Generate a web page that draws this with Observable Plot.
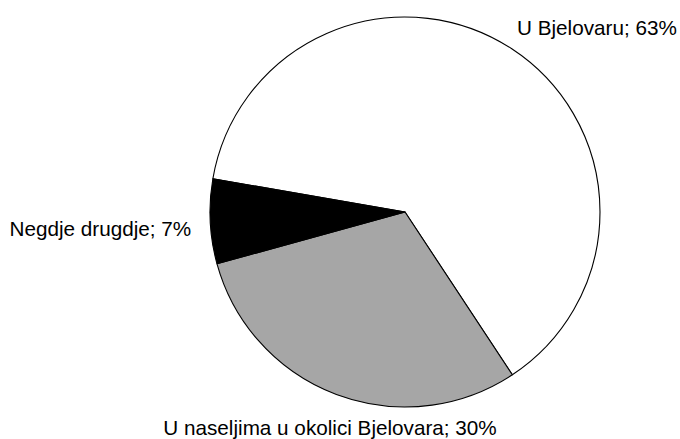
<!DOCTYPE html>
<html>
<head>
<meta charset="utf-8">
<script src="https://cdn.jsdelivr.net/npm/d3@7"></script>
<script src="https://cdn.jsdelivr.net/npm/@observablehq/plot@0.6"></script>
<style>
  html, body { margin: 0; padding: 0; background: #fff; }
</style>
</head>
<body>
<div id="chart"></div>
<script>
const categories = ["U Bjelovaru", "U naseljima u okolici Bjelovara", "Negdje drugdje"];
const shares = [63, 30, 7];
const sliceColors = ["#ffffff", "#a6a6a6", "#000000"];

const startDeg = -80.2;
const pie = d3.pie().sort(null).value(d => d.share)
  .startAngle(startDeg * Math.PI / 180)
  .endAngle(startDeg * Math.PI / 180 + 2 * Math.PI);
const rows = categories.map((c, i) => ({category: c, share: shares[i]}));
const arcs = pie(rows);
const fillOf = d3.scaleOrdinal(categories, sliceColors);

// label layout per slice (anchor and nudges)
const labelStyle = {
  "U Bjelovaru": {anchor: "start", dx: -6, dy: -5},
  "U naseljima u okolici Bjelovara": {anchor: "middle", dx: 0, dy: 15},
  "Negdje drugdje": {anchor: "end", dx: 0, dy: 6}
};
const labels = arcs.map(a => {
  const m = (a.startAngle + a.endAngle) / 2;
  return {
    category: a.data.category,
    text: `${a.data.category}; ${a.data.share}%`,
    x: Math.sin(m) * 1.1,
    y: Math.cos(m) * 1.1,
    ...labelStyle[a.data.category]
  };
});

function pieMark(index, scales) {
  const cx = scales.x(0), cy = scales.y(0);
  const r = scales.x(1) - scales.x(0);
  const arcGen = d3.arc().innerRadius(0).outerRadius(r);
  const g = d3.create("svg:g").attr("transform", `translate(${cx},${cy})`);
  g.selectAll("path").data(arcs).join("path")
    .attr("d", arcGen)
    .attr("fill", d => fillOf(d.data.category))
    .attr("stroke", "#000")
    .attr("stroke-width", 1.1)
    .attr("stroke-linejoin", "round");
  return g.node();
}

const chart = Plot.plot({
  width: 680,
  height: 439,
  margin: 0,
  x: {domain: [-1, 1], range: [210, 600], axis: null},
  y: {domain: [-1, 1], range: [407, 17], axis: null},
  style: {fontFamily: "'Liberation Sans', Arial, sans-serif", fontSize: "20.7px", background: "#fff"},
  marks: [
    pieMark,
    ...labels.map(l => Plot.text([l], {
      x: "x", y: "y", text: "text",
      textAnchor: l.anchor, dx: l.dx, dy: l.dy,
      fill: "#000", fontSize: 20.7
    }))
  ]
});
document.getElementById("chart").appendChild(chart);
</script>
</body>
</html>
